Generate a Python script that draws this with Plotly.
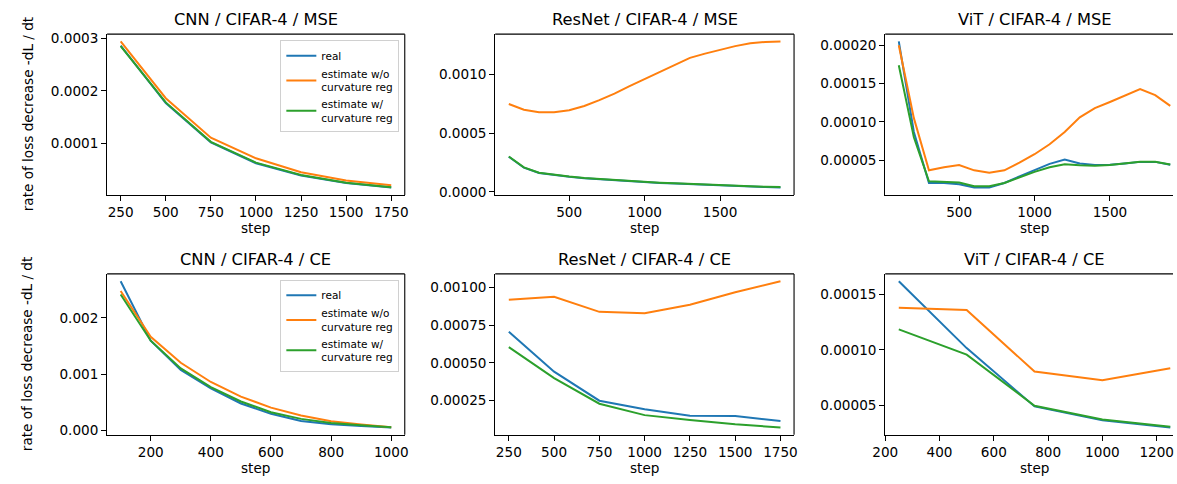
import plotly.graph_objects as go

# ---------------- data ----------------
labels = ["real", "estimate w/o<br>curvature reg", "estimate w/<br>curvature reg"]
colors = ["#1f77b4", "#ff7f0e", "#2ca02c"]

titles = ["CNN / CIFAR-4 / MSE", "ResNet / CIFAR-4 / MSE", "ViT / CIFAR-4 / MSE",
          "CNN / CIFAR-4 / CE", "ResNet / CIFAR-4 / CE", "ViT / CIFAR-4 / CE"]

# CNN / MSE
cnn_mse_step = [250, 500, 750, 1000, 1250, 1500, 1750]
cnn_mse_real = [0.000286, 0.000177, 0.000102, 0.0000624, 0.0000390, 0.0000246, 0.0000160]
cnn_mse_wo = [0.000294, 0.000186, 0.000111, 0.0000717, 0.0000450, 0.0000296, 0.0000204]
cnn_mse_w = [0.000285, 0.000178, 0.000103, 0.0000635, 0.0000400, 0.0000252, 0.0000165]

# ResNet / MSE
res_mse_step = [100, 200, 300, 400, 500, 600, 700, 800, 900, 1000,
                1100, 1200, 1300, 1400, 1500, 1600, 1700, 1800, 1900]
res_mse_real = [0.000298, 0.000205, 0.000160, 0.000142, 0.000128, 0.000115, 0.000106,
                0.000098, 0.000091, 0.000083, 0.000076, 0.000070, 0.000064, 0.000058,
                0.000053, 0.000048, 0.000044, 0.000040, 0.000036]
res_mse_wo = [0.000747, 0.000698, 0.000678, 0.000678, 0.000695, 0.000731, 0.000780,
              0.000836, 0.000900, 0.000960, 0.001020, 0.001080, 0.001140, 0.001176,
              0.001210, 0.001240, 0.001265, 0.001276, 0.001280]
res_mse_w = [0.000301, 0.000208, 0.000163, 0.000144, 0.000130, 0.000117, 0.000108,
             0.000100, 0.000093, 0.000085, 0.000078, 0.000072, 0.000066, 0.000061,
             0.000056, 0.000051, 0.000047, 0.000043, 0.000040]

# ViT / MSE
vit_mse_step = [100, 200, 300, 400, 500, 600, 700, 800, 900, 1000,
                1100, 1200, 1300, 1400, 1500, 1600, 1700, 1800, 1900]
vit_mse_real = [0.000205, 0.000087, 0.0000205, 0.0000205, 0.0000188, 0.0000145, 0.0000145,
                0.0000205, 0.0000290, 0.0000370, 0.0000454, 0.0000509, 0.0000458, 0.0000440,
                0.0000442, 0.0000460, 0.0000480, 0.0000480, 0.0000442]
vit_mse_wo = [0.000200, 0.000105, 0.0000370, 0.0000410, 0.0000440, 0.0000370, 0.0000340,
              0.0000370, 0.0000470, 0.0000580, 0.0000710, 0.0000870, 0.000106, 0.000118,
              0.000126, 0.000135, 0.000143, 0.000135, 0.000121]
vit_mse_w = [0.000174, 0.000080, 0.0000228, 0.0000222, 0.0000210, 0.0000162, 0.0000162,
             0.0000205, 0.0000280, 0.0000350, 0.0000410, 0.0000450, 0.0000435, 0.0000430,
             0.0000440, 0.0000460, 0.0000482, 0.0000482, 0.0000445]

# CNN / CE
cnn_ce_step = [100, 200, 300, 400, 500, 600, 700, 800, 900, 1000]
cnn_ce_real = [0.002655, 0.001594, 0.001072, 0.000742, 0.000475, 0.000290, 0.000162,
               0.000104, 0.000075, 0.000046]
cnn_ce_wo = [0.002480, 0.001664, 0.001200, 0.000858, 0.000597, 0.000400, 0.000260,
             0.000157, 0.000100, 0.000050]
cnn_ce_w = [0.002417, 0.001594, 0.001100, 0.000765, 0.000510, 0.000319, 0.000200,
            0.000128, 0.000087, 0.000050]

# ResNet / CE
res_ce_step = [250, 500, 750, 1000, 1250, 1500, 1750]
res_ce_real = [0.000707, 0.000441, 0.000248, 0.000191, 0.000148, 0.000146, 0.000113]
res_ce_wo = [0.000920, 0.000939, 0.000839, 0.000830, 0.000887, 0.000970, 0.001043]
res_ce_w = [0.000604, 0.000398, 0.000228, 0.000152, 0.000120, 0.0000913, 0.0000696]

# ViT / CE
vit_ce_step = [250, 500, 750, 1000, 1250]
vit_ce_real = [0.000162, 0.0001015, 0.0000488, 0.0000362, 0.0000297]
vit_ce_wo = [0.000138, 0.000136, 0.0000803, 0.0000724, 0.0000832]
vit_ce_w = [0.0001185, 0.0000956, 0.0000494, 0.0000370, 0.0000303]

# tick labels
xticks = [
    [250, 500, 750, 1000, 1250, 1500, 1750],
    [500, 1000, 1500],
    [500, 1000, 1500],
    [200, 400, 600, 800, 1000],
    [250, 500, 750, 1000, 1250, 1500, 1750],
    [200, 400, 600, 800, 1000, 1200],
]
yticks = [
    [0.0001, 0.0002, 0.0003],
    [0.0, 0.0005, 0.0010],
    [0.00005, 0.00010, 0.00015, 0.00020],
    [0.000, 0.001, 0.002],
    [0.00025, 0.00050, 0.00075, 0.00100],
    [0.00005, 0.00010, 0.00015],
]
yfmt = [".4f", ".4f", ".5f", ".3f", ".5f", ".5f"]

panels = [
    (cnn_mse_step, [cnn_mse_real, cnn_mse_wo, cnn_mse_w]),
    (res_mse_step, [res_mse_real, res_mse_wo, res_mse_w]),
    (vit_mse_step, [vit_mse_real, vit_mse_wo, vit_mse_w]),
    (cnn_ce_step, [cnn_ce_real, cnn_ce_wo, cnn_ce_w]),
    (res_ce_step, [res_ce_real, res_ce_wo, res_ce_w]),
    (vit_ce_step, [vit_ce_real, vit_ce_wo, vit_ce_w]),
]

# ---------------- layout geometry (pixels) ----------------
W, H = 1177, 484
col_px = [(95.5, 397.5), (489.3, 792.5), (885.0, 1188.0)]
row_px = [(30.7, 194.5), (275.0, 439.0)]
FONT = "DejaVu Sans"


def pad_range(vals, frac=0.05):
    lo, hi = min(vals), max(vals)
    s = hi - lo
    return lo - frac * s, hi + frac * s


fig = go.Figure()
layout = dict(
    width=W, height=H,
    margin=dict(l=0, r=0, t=0, b=0),
    paper_bgcolor="white", plot_bgcolor="white",
    font=dict(family=FONT, color="black", size=13.6),
    annotations=[],
    shapes=[],
)

SPINE = dict(color="black", width=1.1)

for i, (steps, series) in enumerate(panels):
    r, c = divmod(i, 3)
    n = i + 1
    xa = "xaxis" if n == 1 else f"xaxis{n}"
    ya = "yaxis" if n == 1 else f"yaxis{n}"
    xref = "x" if n == 1 else f"x{n}"
    yref = "y" if n == 1 else f"y{n}"

    leg = None
    if c == 0:
        leg = "legend" if r == 0 else "legend2"
    for k, ys in enumerate(series):
        fig.add_trace(go.Scatter(
            x=steps, y=ys, mode="lines", name=labels[k],
            line=dict(color=colors[k], width=2),
            xaxis=xref, yaxis=yref,
            showlegend=leg is not None,
            legend=leg if leg else "legend",
        ))

    x0p, x1p = col_px[c]
    y0p, y1p = row_px[r]
    xr = pad_range(steps)
    allv = [v for s in series for v in s]
    yr = pad_range(allv)
    dom_x1 = x1p / W
    clipped = x1p > W
    if clipped:  # panel clipped at the image edge
        frac = (W - x0p) / (x1p - x0p)
        xr = (xr[0], xr[0] + (xr[1] - xr[0]) * frac)
        dom_x1 = 1.0

    axis_common = dict(
        showline=True, linecolor="black", linewidth=1.1,
        showgrid=False, zeroline=False,
        ticks="outside", ticklen=5, tickwidth=1.1, tickcolor="black",
        tickfont=dict(family=FONT, size=13.6, color="black"),
    )
    layout[xa] = dict(
        axis_common, domain=[x0p / W, dom_x1], range=list(xr),
        anchor=yref, tickvals=xticks[i],
    )
    layout[ya] = dict(
        axis_common, domain=[1 - y1p / H, 1 - y0p / H], range=list(yr),
        anchor=xref, tickvals=yticks[i], tickformat=yfmt[i],
    )

    # top spine (and right spine when visible)
    xd = f"{xref} domain"
    yd = f"{yref} domain"
    layout["shapes"].append(dict(type="line", xref=xd, yref=yd, x0=0, x1=1, y0=1, y1=1,
                                 line=SPINE, layer="above"))
    if not clipped:
        layout["shapes"].append(dict(type="line", xref=xd, yref=yd, x0=1, x1=1, y0=0, y1=1,
                                     line=SPINE, layer="above"))

    cx = (x0p + x1p) / 2 / W
    layout["annotations"].append(dict(
        text=titles[i], xref="paper", yref="paper", x=cx, y=1 - (y0p - 15) / H,
        xanchor="center", yanchor="middle", showarrow=False,
        font=dict(family=FONT, size=16.3, color="black"),
    ))
    layout["annotations"].append(dict(
        text="step", xref="paper", yref="paper", x=cx, y=1 - (y1p + 34) / H,
        xanchor="center", yanchor="middle", showarrow=False,
        font=dict(family=FONT, size=13.6, color="black"),
    ))
    if c == 0:
        layout["annotations"].append(dict(
            text="rate of loss decrease -dL / dt", xref="paper", yref="paper",
            x=15 / W, y=1 - (y0p + y1p) / 2 / H, textangle=-90,
            xanchor="center", yanchor="middle", showarrow=False,
            font=dict(family=FONT, size=13.6, color="black"),
        ))

legend_common = dict(
    bgcolor="rgba(255,255,255,0.8)", bordercolor="#d0d0d0", borderwidth=1,
    font=dict(family=FONT, size=10.5, color="black"),
    xanchor="right", yanchor="top", itemwidth=30, tracegroupgap=0,
)
layout["legend"] = dict(legend_common, x=392 / W, y=1 - 37 / H)
layout["legend2"] = dict(legend_common, x=392 / W, y=1 - 281 / H)

fig.update_layout(**layout)
fig.write_html("out.html")
